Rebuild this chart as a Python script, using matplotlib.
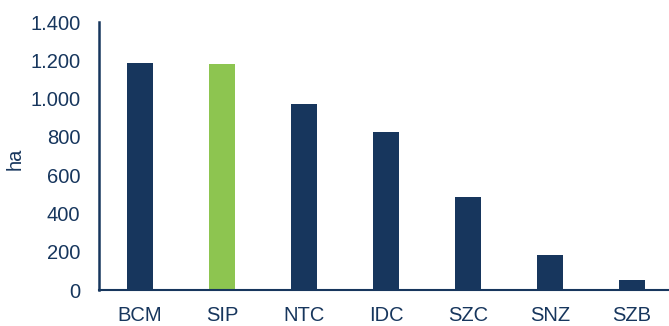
import numpy as np
import matplotlib.pyplot as plt
from matplotlib.ticker import FuncFormatter

categories = ['BCM', 'SIP', 'NTC', 'IDC', 'SZC', 'SNZ', 'SZB']
values = [1184, 1181, 972, 825, 484, 183, 52]
colors = ['#17365d', '#8dc550', '#17365d', '#17365d', '#17365d', '#17365d', '#17365d']

navy = '#17365d'
plt.rcParams['font.family'] = ['Liberation Sans', 'DejaVu Sans']

fig = plt.figure(figsize=(6.69, 3.26), dpi=100)
ax = fig.add_axes([0.148, 0.110, 0.852, 0.8225])

x = np.arange(len(categories))
ax.bar(x, values, width=0.317, color=colors)

ax.set_xlim(-0.5, 6.45)
ax.set_ylim(0, 1400)
ax.set_yticks(np.arange(0, 1401, 200))
ax.yaxis.set_major_formatter(FuncFormatter(lambda v, p: f'{int(v):,}'.replace(',', '.')))
ax.set_xticks(x)
ax.set_xticklabels(categories)

for s in ['top', 'right']:
    ax.spines[s].set_visible(False)
for s in ['left', 'bottom']:
    ax.spines[s].set_color(navy)
ax.spines['left'].set_linewidth(1.8)
ax.spines['bottom'].set_linewidth(1.5)

ax.tick_params(axis='both', length=0, labelsize=14.5, labelcolor=navy)
ax.tick_params(axis='y', pad=13.5)
ax.tick_params(axis='x', pad=11.5)
ax.set_ylabel('ha', fontsize=14.5, color=navy)
ax.yaxis.set_label_coords(-0.13, 0.49)

fig.savefig('out.png', dpi=100)
